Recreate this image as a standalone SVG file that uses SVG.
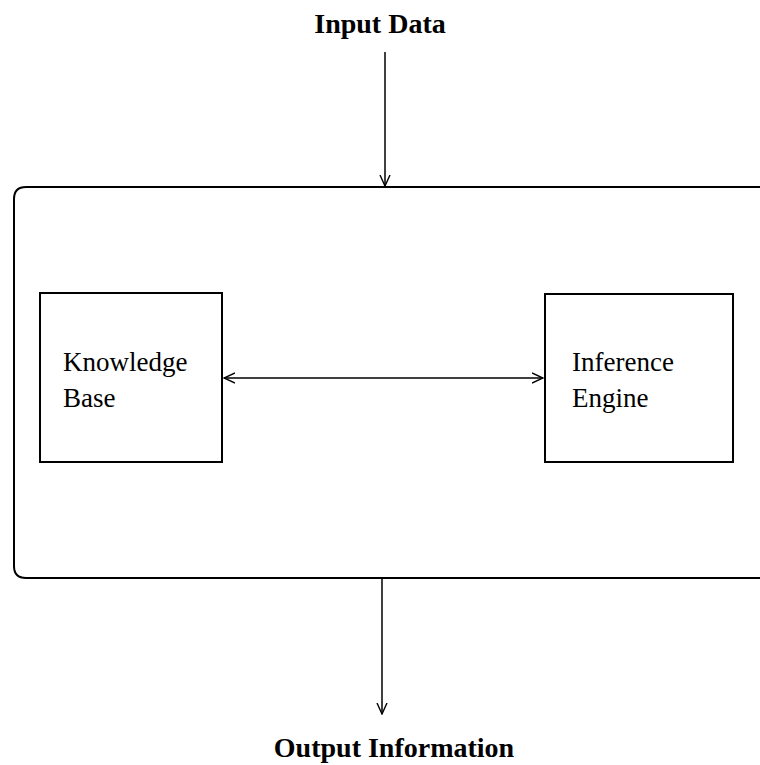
<svg xmlns="http://www.w3.org/2000/svg" width="760" height="765" viewBox="0 0 760 765">
<defs>
<marker id="arr" viewBox="0 0 12 12" refX="11" refY="6" markerWidth="12" markerHeight="12" markerUnits="userSpaceOnUse" orient="auto-start-reverse">
<path d="M0,1 L11,6 L0,11" fill="none" stroke="#000" stroke-width="1.4"/>
</marker>
</defs>
<style>
.box{fill:#fff;stroke:#000;stroke-width:2}
.lbl{font-family:"Liberation Serif",serif;font-size:27px;fill:#000}
.ttl{font-family:"Liberation Serif",serif;font-size:28px;font-weight:bold;fill:#000}
.con{stroke:#000;stroke-width:1.5;fill:none}
</style>
<rect width="760" height="765" fill="#fff"/>
<g id="system">
<path d="M775,187 L26,187 Q14,187 14,199 L14,566 Q14,578 26,578 L775,578" class="box"/>
</g>
<g id="input"><text class="ttl" x="380" y="33" text-anchor="middle">Input Data</text></g>
<g id="output"><text class="ttl" x="394" y="757" text-anchor="middle">Output Information</text></g>
<g id="kb">
<rect class="box" x="40" y="293" width="182" height="169"/>
<text class="lbl" x="63" y="371">Knowledge</text>
<text class="lbl" x="63" y="407">Base</text>
</g>
<g id="ie">
<rect class="box" x="545" y="294" width="188" height="168"/>
<text class="lbl" x="572" y="371">Inference</text>
<text class="lbl" x="572" y="407">Engine</text>
</g>
<g id="connectors">
<line class="con" x1="385" y1="52" x2="385" y2="186" marker-end="url(#arr)"/>
<line class="con" x1="224" y1="378" x2="543" y2="378" marker-start="url(#arr)" marker-end="url(#arr)"/>
<line class="con" x1="382" y1="579" x2="382" y2="714" marker-end="url(#arr)"/>
</g>
</svg>
